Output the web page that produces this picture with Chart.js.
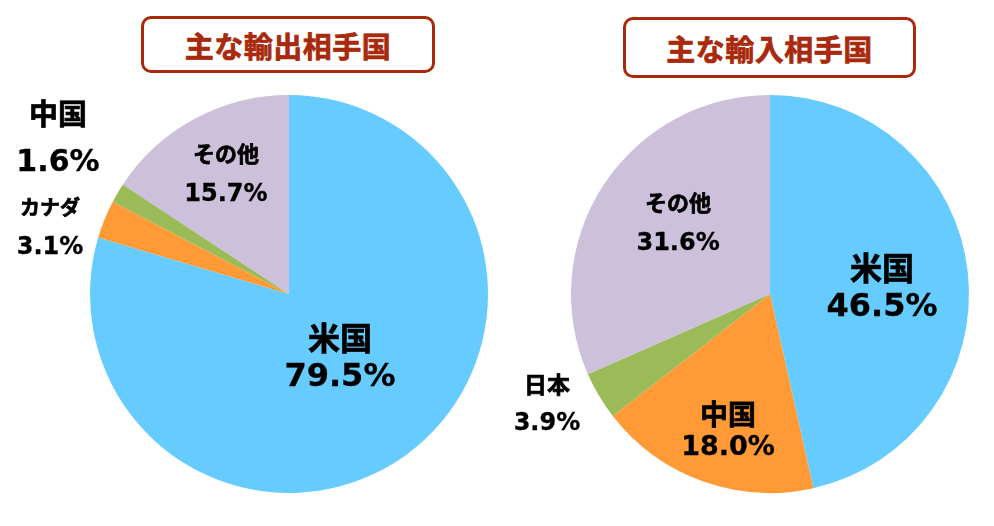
<!DOCTYPE html>
<html>
<head>
<meta charset="utf-8">
<script src="https://cdn.jsdelivr.net/npm/chart.js@4"></script>
<style>
  body { margin: 0; background: #fff; width: 994px; height: 526px; position: relative; overflow: hidden; }
  .pie { position: absolute; top: 0; width: 497px; height: 526px; }
  .title {
    position: absolute; box-sizing: border-box;
    border: 3.5px solid #A8290C; border-radius: 10px;
    color: #A8290C; font: bold 29px "Noto Sans CJK JP", sans-serif;
    -webkit-text-stroke: 0.7px #A8290C;
    display: flex; align-items: center; justify-content: center; letter-spacing: 0.5px;
  }
</style>
</head>
<body>
<div class="title" style="left:141px;top:16px;width:294px;height:57px;">主な輸出相手国</div>
<div class="title" style="left:623px;top:17px;width:293px;height:61px;">主な輸入相手国</div>
<div class="pie" style="left:0"><canvas id="exportPie"></canvas></div>
<div class="pie" style="left:497px"><canvas id="importPie"></canvas></div>
<script>
const exportLabels = ['米国', 'カナダ', '中国', 'その他'];
const exportValues = [79.5, 3.1, 1.6, 15.7];
const importLabels = ['米国', '中国', '日本', 'その他'];
const importValues = [46.5, 18.0, 3.9, 31.6];
const sliceColors = ['#66CCFF', '#FF9A36', '#9BBB59', '#CCC0DA'];

// label placement: offset from pie centre in radius units, font sizes, line gap
const exportLabelLayout = [
  { dx: 0.256, dy: 0.322, name: 32, value: 32, gap: 40 },
  { dx: -1.201, dy: -0.334, name: 20, value: 24, gap: 40 },
  { dx: -1.161, dy: -0.781, name: 29, value: 30, gap: 49 },
  { dx: -0.317, dy: -0.603, name: 22, value: 24, gap: 41 },
];
const importLabelLayout = [
  { dx: 0.563, dy: -0.030, name: 32, value: 32, gap: 40 },
  { dx: -0.211, dy: 0.688, name: 28, value: 27, gap: 34 },
  { dx: -1.121, dy: 0.553, name: 23, value: 24, gap: 40 },
  { dx: -0.462, dy: -0.354, name: 22, value: 24, gap: 41 },
];

const sliceLabels = {
  id: 'sliceLabels',
  afterDatasetsDraw(chart, args, opts) {
    const ctx = chart.ctx;
    const meta = chart.getDatasetMeta(0);
    const values = chart.data.datasets[0].data;
    ctx.save();
    ctx.fillStyle = '#000';
    ctx.strokeStyle = '#000';
    ctx.textAlign = 'center';
    ctx.textBaseline = 'middle';
    meta.data.forEach((arc, i) => {
      const lay = opts.layout[i];
      const cx = arc.x + lay.dx * arc.outerRadius;
      const cy = arc.y + lay.dy * arc.outerRadius;
      ctx.font = `bold ${lay.name}px "Noto Sans CJK JP", sans-serif`;
      ctx.lineWidth = 0.7;
      ctx.fillText(chart.data.labels[i], cx, cy - lay.gap / 2);
      ctx.strokeText(chart.data.labels[i], cx, cy - lay.gap / 2);
      const txt = values[i].toFixed(1) + '%';
      ctx.font = `bold ${lay.value}px "DejaVu Sans", sans-serif`;
      ctx.lineWidth = 0.3;
      ctx.fillText(txt, cx, cy + lay.gap / 2);
      ctx.strokeText(txt, cx, cy + lay.gap / 2);
    });
    ctx.restore();
  }
};

const makePie = (id, labels, values, padding, layout) => new Chart(document.getElementById(id), {
  type: 'pie',
  data: {
    labels: labels,
    datasets: [{ data: values, backgroundColor: sliceColors, borderWidth: 0 }],
  },
  options: {
    responsive: true,
    maintainAspectRatio: false,
    animation: false,
    layout: { padding: padding },
    plugins: {
      legend: { display: false },
      tooltip: { enabled: false },
      sliceLabels: { layout: layout },
    },
  },
  plugins: [sliceLabels],
});

makePie('exportPie', exportLabels, exportValues, { left: 90, right: 9, top: 95, bottom: 33 }, exportLabelLayout);
makePie('importPie', importLabels, importValues, { left: 74, right: 25, top: 95, bottom: 33 }, importLabelLayout);
</script>
</body>
</html>
